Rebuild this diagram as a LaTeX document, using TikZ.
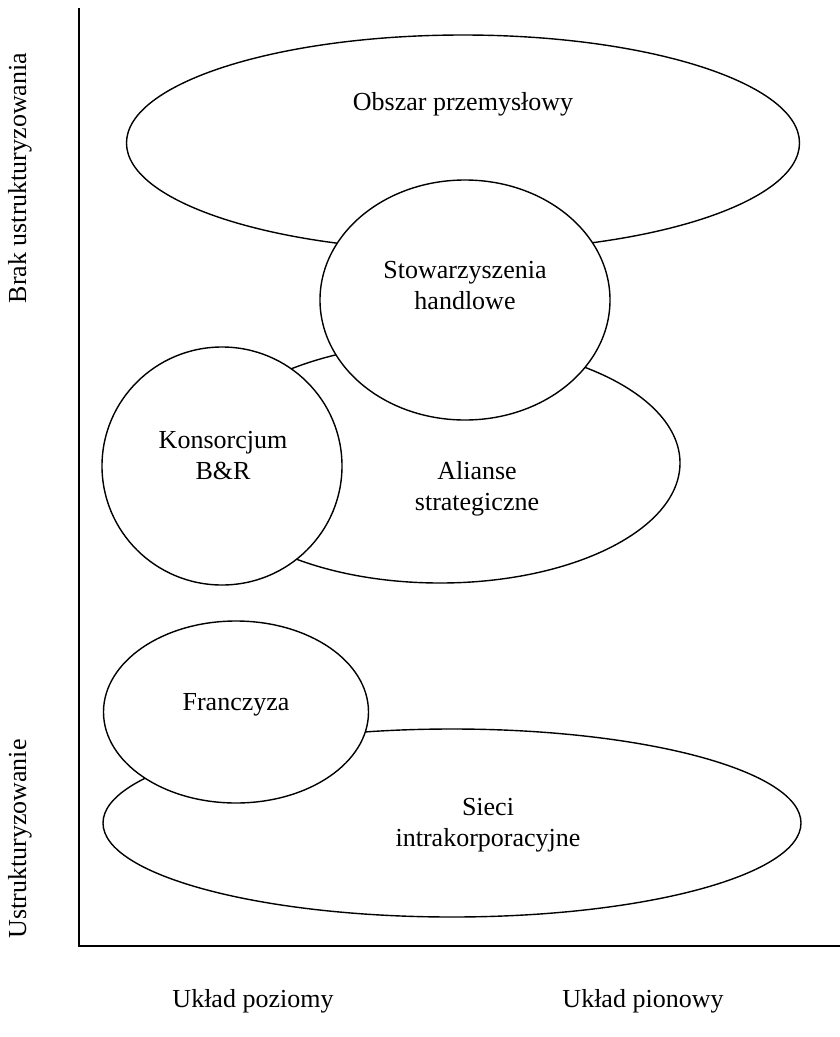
\documentclass[tikz,border=0pt]{standalone}
\usepackage{fontspec}
\setmainfont{Liberation Serif}
\usetikzlibrary{shapes.geometric}
\begin{document}
\begin{tikzpicture}[
    x=1pt, y=-1pt,
    font=\fontsize{26}{31}\selectfont,
    blob/.style={draw, ellipse, fill=white, line width=1.4pt, inner sep=0pt},
    lbl/.style={align=center, inner sep=0pt},
    axisline/.style={line width=1.8pt}
  ]
  \useasboundingbox (0,0) rectangle (840,1037);

  % Axes
  \coordinate (ytop) at (79,8);
  \coordinate (orig) at (79,946);
  \coordinate (xend) at (840,946);
  \draw[axisline] (ytop) -- (orig) -- (xend);

  % Upper group: later shapes cover earlier ones
  \node[blob, minimum width=673pt, minimum height=216pt] (obs) at (463,143) {};
  \node[blob, minimum width=480pt, minimum height=240pt] (ali) at (440,463) {};
  \node[blob, minimum width=290pt, minimum height=240pt] (sto) at (465,300) {};
  \node[blob, minimum width=240pt, minimum height=238pt] (kon) at (222,466) {};

  % Lower group
  \node[blob, minimum width=698pt, minimum height=188pt] (sie) at (452,823) {};
  \node[blob, minimum width=265pt, minimum height=182pt] (fra) at (236,712) {};

  \node[lbl] (obsT) at (463,104) {Obszar przemysłowy};
  \node[lbl] (stoT) at (465,286) {Stowarzyszenia\\handlowe};
  \node[lbl] (konT) at (223,456) {Konsorcjum\\B\&R};
  \node[lbl] (aliT) at (477,489) {Alianse\\strategiczne};
  \node[lbl] (fraT) at (236,705) {Franczyza};
  \node[lbl] (sieT) at (488,825) {Sieci\\intrakorporacyjne};

  % Axis captions
  \node[lbl, rotate=90] (brak) at (20,178) {Brak ustrukturyzowania};
  \node[lbl, rotate=90] (ustr) at (20,839) {Ustrukturyzowanie};
  \node[lbl] (poz) at (253,1001) {Układ poziomy};
  \node[lbl] (pion) at (643,1001) {Układ pionowy};
\end{tikzpicture}
\end{document}
